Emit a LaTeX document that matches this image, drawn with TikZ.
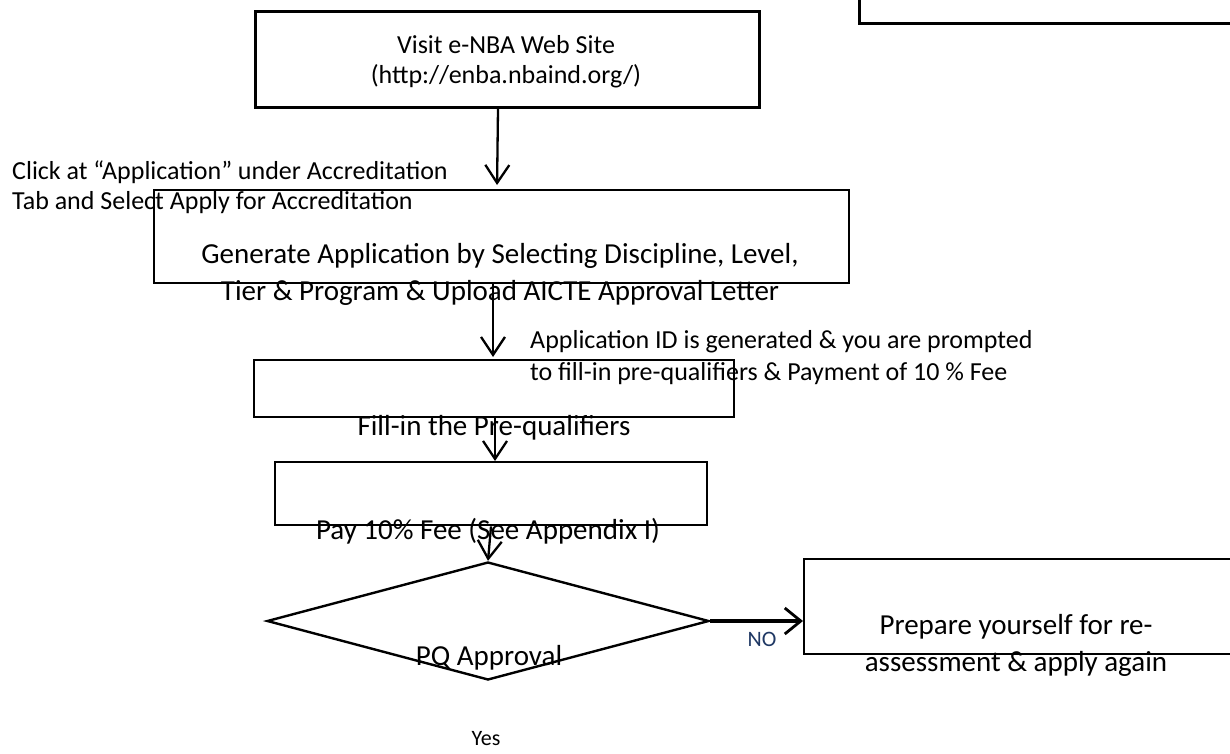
\documentclass[tikz,border=0pt]{standalone}
\usepackage{fontspec}
\setmainfont{Carlito}
\usetikzlibrary{arrows.meta,shapes.geometric}
\definecolor{navy}{HTML}{1F3864}
\tikzset{
  boxA/.style={draw, line width=2.6pt, inner sep=0pt, anchor=north west},
  boxB/.style={draw, line width=2.4pt, inner sep=0pt, anchor=north west},
  txtS/.style={inner sep=0pt, font=\fontsize{26}{30}\selectfont},
  txtL/.style={inner sep=0pt, font=\fontsize{29}{37}\selectfont, align=center},
  arr/.style={line width=2.3pt, -{Straight Barb[length=18pt,width=24pt,line width=2.3pt]}},
  arrT/.style={line width=3.8pt, -{Straight Barb[length=16pt,width=26pt,line width=2.8pt]}},
}
\begin{document}
\begin{tikzpicture}[x=1pt,y=-1pt]
\useasboundingbox (0,0) rectangle (1230,753);
\clip (0,0) rectangle (1230,753);
% top-right partial box
\node[boxA, minimum width=400pt, minimum height=40pt] (tr) at (858,-18) {};
% box 1
\node[boxA, minimum width=504pt, minimum height=96pt] (b1) at (254,10) {};
\node[txtS, align=center] (t1) at (506,62) {Visit e-NBA Web Site\\(http://enba.nbaind.org/)};
% click text
\node[txtS, align=left, anchor=west] (tc) at (12,187) {Click at “Application” under Accreditation\\Tab and Select Apply for Accreditation};
% box 2
\node[boxB, minimum width=695pt, minimum height=93pt] (b2) at (153,189) {};
\node[txtL] (t2) at (500,274) {Generate Application by Selecting Discipline, Level,\\Tier \& Program \& Upload AICTE Approval Letter};
% app id text
\node[txtS, align=left, anchor=west, font=\fontsize{26}{32}\selectfont] (ta) at (530,358) {Application ID is generated \& you are prompted\\to fill-in pre-qualifiers \& Payment of 10 \% Fee};
% box 3
\node[boxB, minimum width=480pt, minimum height=57pt] (b3) at (253,359) {};
\node[txtL] (t3) at (494,428) {Fill-in the Pre-qualifiers};
% box 4
\node[boxB, minimum width=432pt, minimum height=63pt] (b4) at (274,461) {};
\node[txtL] (t4) at (488,531) {Pay 10\% Fee (See Appendix I)};
% diamond
\node[diamond, draw, line width=2.4pt, inner sep=0pt, minimum width=442pt, minimum height=118pt] (d) at (488,621) {};
\node[txtL] (td) at (489,658) {PQ Approval};
% box 5
\node[boxB, minimum width=440pt, minimum height=95pt] (b5) at (803,558) {};
\node[txtL] (t5) at (1016,645) {Prepare yourself for re-\\assessment \& apply again};
% labels
\node[inner sep=0pt, font=\fontsize{22}{26}\selectfont, text=navy] (no) at (762,639) {NO};
\node[inner sep=0pt, font=\fontsize{22}{26}\selectfont] (yes) at (486,739) {Yes};
% helper coordinates for arrow columns
\coordinate (c1) at (498,0);
\coordinate (c1b) at (497,0);
\coordinate (c2) at (493,0);
\coordinate (c3) at (495,0);
\coordinate (c4) at (491,0);
% connectors
\draw[arr, shorten >=4pt] (b1.south -| c1) -- (b2.north -| c1b);
\draw[arr, shorten >=2pt] (b2.south -| c2) -- (b3.north -| c2);
\draw[arr] (b3.south -| c3) -- (b4.north -| c3);
\draw[arr] (b4.south -| c4) -- (d.north);
\draw[arrT] (d.east) -- (d.east -| b5.west);
\end{tikzpicture}
\end{document}
